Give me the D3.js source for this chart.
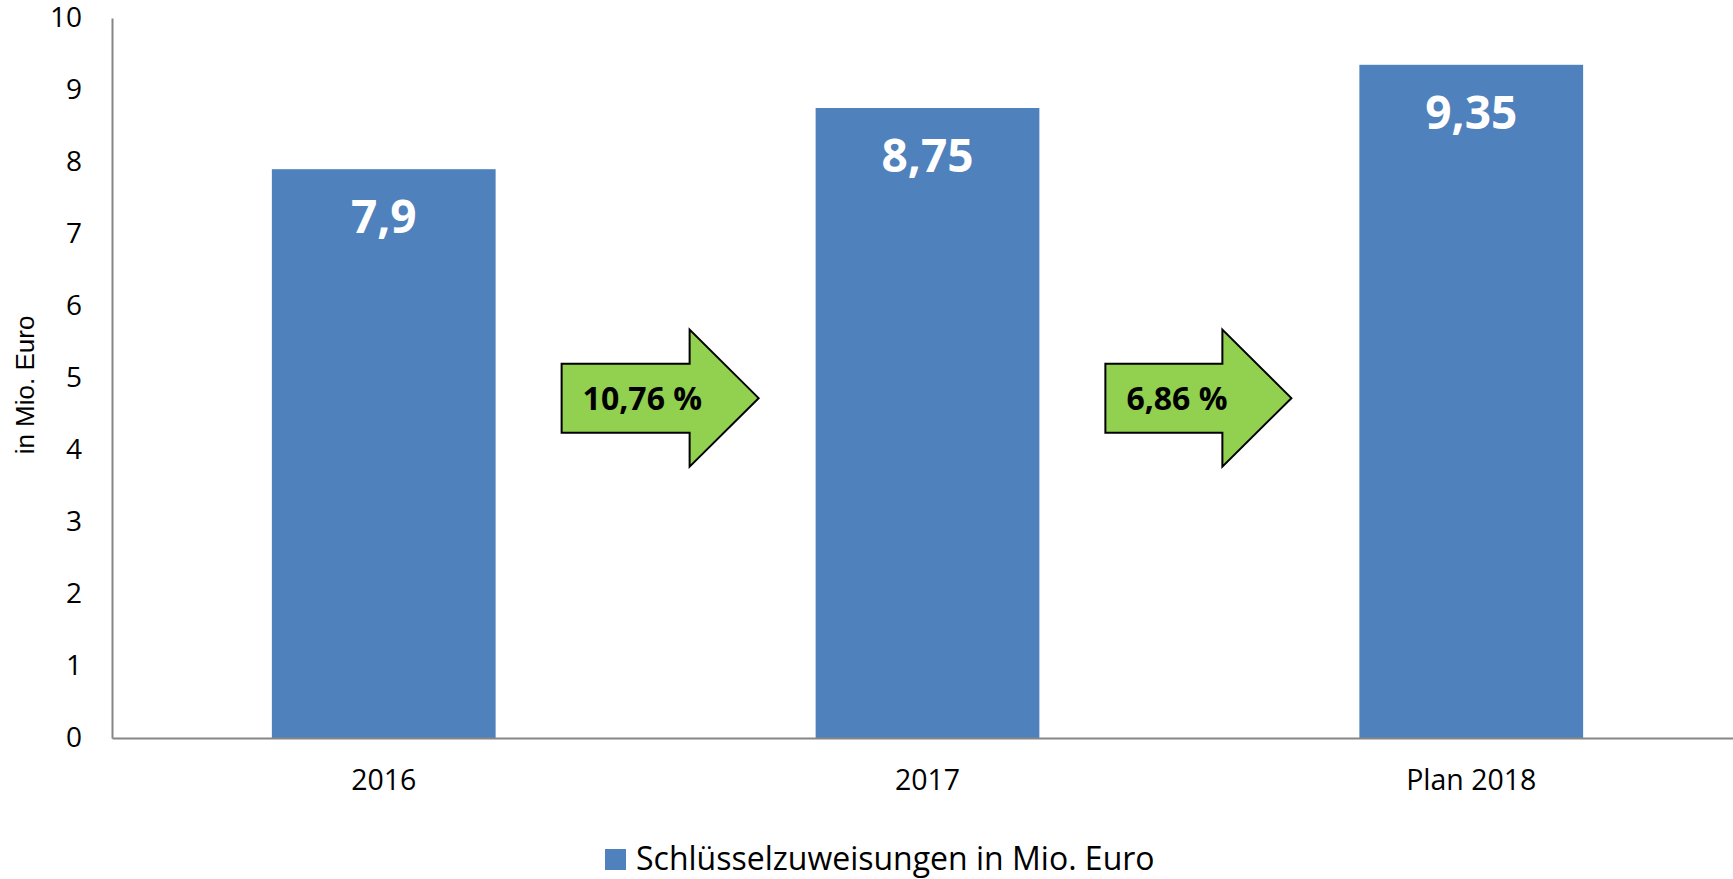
<!DOCTYPE html>
<html>
<head>
<meta charset="utf-8">
<script src="https://cdn.jsdelivr.net/npm/d3@7"></script>
<style>
  body { margin: 0; background: #fff; }
  text { font-family: "Open Sans", sans-serif; }
</style>
</head>
<body>
<script>
// chart data
const categories = ["2016", "2017", "Plan 2018"];
const values = [7.9, 8.75, 9.35];
const valueLabels = ["7,9", "8,75", "9,35"];
const growthLabels = ["10,76 %", "6,86 %"];
const yTicks = [0, 1, 2, 3, 4, 5, 6, 7, 8, 9, 10];
const seriesName = "Schlüsselzuweisungen in Mio. Euro";

const w = 1733;
const h = 879;
const plotLeft = 112;
const plotTop = 18;
const plotBottom = 738;

const svg = d3.select("body")
    .append("svg")
    .attr("width", w)
    .attr("height", h);

// scales
const xScale = d3.scaleBand()
    .domain(categories)
    .range([plotLeft, 1743])
    .paddingInner(0.5885)
    .paddingOuter(0.294);

const yScale = d3.scaleLinear()
    .domain([0, 10])
    .range([plotBottom, plotTop]);

// bars
svg.selectAll("rect.bar")
    .data(values)
    .enter()
    .append("rect")
    .attr("class", "bar")
    .attr("x", (d, i) => xScale(categories[i]))
    .attr("y", d => yScale(d))
    .attr("width", xScale.bandwidth())
    .attr("height", d => plotBottom - yScale(d))
    .attr("fill", "#4F81BD");

// value labels inside the bars
svg.selectAll("text.val")
    .data(values)
    .enter()
    .append("text")
    .attr("class", "val")
    .attr("x", (d, i) => xScale(categories[i]) + xScale.bandwidth() / 2)
    .attr("y", d => yScale(d) + 64)
    .attr("text-anchor", "middle")
    .attr("font-size", 46)
    .attr("font-weight", "bold")
    .attr("fill", "#fff")
    .text((d, i) => valueLabels[i]);

// y axis
const yAxis = svg.append("g")
    .attr("transform", "translate(" + plotLeft + ",0)")
    .call(d3.axisLeft(yScale).tickValues(yTicks).tickSize(0).tickPadding(30));
yAxis.select(".domain").attr("stroke", "#868686").attr("stroke-width", 2);
yAxis.selectAll("text")
    .attr("font-size", 28)
    .attr("fill", "#000")
    .style("font-family", "'Open Sans', sans-serif");

// x axis
const xAxis = svg.append("g")
    .attr("transform", "translate(0," + plotBottom + ")")
    .call(d3.axisBottom(xScale).tickSize(0).tickPadding(32));
xAxis.select(".domain").attr("stroke", "#868686").attr("stroke-width", 2);
xAxis.selectAll("text")
    .attr("font-size", 28.5)
    .attr("fill", "#000")
    .style("font-family", "'Open Sans', sans-serif");

// y axis title
svg.append("text")
    .attr("text-anchor", "middle")
    .attr("transform", "translate(34,385)rotate(-90)")
    .attr("font-size", 26)
    .style("font-family", "'Liberation Sans', Arial, sans-serif")
    .text("in Mio. Euro");

// growth arrows between bars
const arrowLengths = [197, 186];
const arrowY = yScale(4.72);
const arrowPath = function (x0, len) {
    const headLen = 69, bodyH = 69, headH = 137;
    return "M" + x0 + "," + (arrowY - bodyH / 2) +
        "L" + (x0 + len - headLen) + "," + (arrowY - bodyH / 2) +
        "L" + (x0 + len - headLen) + "," + (arrowY - headH / 2) +
        "L" + (x0 + len) + "," + arrowY +
        "L" + (x0 + len - headLen) + "," + (arrowY + headH / 2) +
        "L" + (x0 + len - headLen) + "," + (arrowY + bodyH / 2) +
        "L" + x0 + "," + (arrowY + bodyH / 2) + "Z";
};
const arrowX = i => xScale(categories[i]) + xScale.bandwidth() + 66;

const arrows = svg.selectAll("g.arrow")
    .data(growthLabels)
    .enter()
    .append("g")
    .attr("class", "arrow");

arrows.append("path")
    .attr("d", (d, i) => arrowPath(arrowX(i), arrowLengths[i]))
    .attr("fill", "#92D050")
    .attr("stroke", "#000")
    .attr("stroke-width", 2);

arrows.append("text")
    .attr("x", (d, i) => arrowX(i) + 21)
    .attr("y", arrowY + 12)
    .attr("font-size", 32)
    .attr("font-weight", "bold")
    .attr("fill", "#000")
    .text(d => d);

// legend
svg.append("rect")
    .attr("x", 605)
    .attr("y", 849)
    .attr("width", 21)
    .attr("height", 21)
    .attr("fill", "#4F81BD");

svg.append("text")
    .attr("x", 636)
    .attr("y", 870)
    .attr("font-size", 32)
    .attr("fill", "#000")
    .text(seriesName);
</script>
</body>
</html>
